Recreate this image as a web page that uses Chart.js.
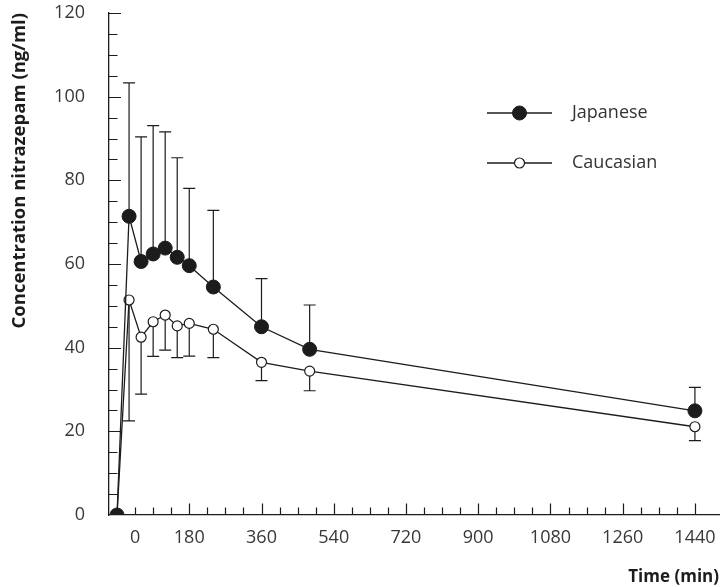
<!DOCTYPE html>
<html>
<head>
<meta charset="utf-8">
<script src="https://cdn.jsdelivr.net/npm/chart.js@4.4.1/dist/chart.umd.min.js"></script>
<style>
  html, body { margin: 0; padding: 0; background: #fff; }
  canvas { display: block; }
</style>
</head>
<body>
<canvas id="pkChart" width="727" height="587"></canvas>
<script>
// sampling times (min) and plasma nitrazepam, mean with SD
const times = [0, 30, 60, 90, 120, 150, 180, 240, 360, 480, 1440];
const japaneseMean = [0, 71.4, 60.6, 62.4, 63.8, 61.6, 59.6, 54.5, 45.0, 39.6, 24.9];
const japaneseSd = [0, 31.9, 29.8, 30.7, 27.8, 23.8, 18.5, 18.3, 11.5, 10.6, 5.6];
const caucasianMean = [0, 51.4, 42.5, 46.2, 47.8, 45.2, 45.8, 44.4, 36.5, 34.4, 21.1];
const caucasianSd = [0, 28.9, 13.6, 8.3, 8.4, 7.6, 7.8, 6.8, 4.4, 4.7, 3.3];

const xTickValues = [45, 180, 360, 540, 720, 900, 1080, 1260, 1440];
const xTickLabels = ['0', '180', '360', '540', '720', '900', '1080', '1260', '1440'];
const yTickValues = [0, 20, 40, 60, 80, 100, 120];

const INK = '#1c1c1c';
const FONT = '"Open Sans", "DejaVu Sans", sans-serif';

const toPoints = (ys) => times.map((t, i) => ({ x: t, y: ys[i] }));

// SD whiskers: Japanese upward, Caucasian downward
const errorBars = {
  id: 'errorBars',
  beforeDatasetsDraw(chart) {
    const ctx = chart.ctx;
    const yScale = chart.scales.y;
    ctx.save();
    ctx.strokeStyle = INK;
    ctx.lineWidth = 1.2;
    chart.data.datasets.forEach((ds, di) => {
      const meta = chart.getDatasetMeta(di);
      ds.sd.forEach((sd, i) => {
        if (!sd) return;
        const pt = meta.data[i];
        const end = yScale.getPixelForValue(ds.data[i].y + ds.dir * sd);
        ctx.beginPath();
        ctx.moveTo(pt.x, pt.y);
        ctx.lineTo(pt.x, end);
        ctx.moveTo(pt.x - 6, end);
        ctx.lineTo(pt.x + 6, end);
        ctx.stroke();
      });
    });
    ctx.restore();
  }
};

// inward tick marks on both axes, long at labelled values
const innerTicks = {
  id: 'innerTicks',
  afterDraw(chart) {
    const { ctx, chartArea, scales } = chart;
    ctx.save();
    ctx.strokeStyle = INK;
    ctx.lineWidth = 1.2;
    ctx.beginPath();
    for (let v = 5; v <= 120; v += 5) {
      const y = Math.round(scales.y.getPixelForValue(v)) + 0.5;
      const len = v % 20 === 0 ? 12 : 8.5;
      ctx.moveTo(chartArea.left, y);
      ctx.lineTo(chartArea.left + len, y);
    }
    for (let t = 45; t <= 1440; t += 45) {
      const x = Math.round(scales.x.getPixelForValue(t)) + 0.5;
      const len = t % 180 === 0 ? 11.5 : 7.5;
      ctx.moveTo(x, chartArea.bottom);
      ctx.lineTo(x, chartArea.bottom - len);
    }
    ctx.stroke();
    ctx.restore();
  }
};

// line-and-marker legend at upper right
const lineLegend = {
  id: 'lineLegend',
  afterDraw(chart) {
    const ctx = chart.ctx;
    const x0 = 487, x1 = 552, xm = 519.5, xt = 572;
    const rows = [113, 163];
    ctx.save();
    chart.data.datasets.forEach((ds, i) => {
      const y = rows[i];
      ctx.strokeStyle = INK;
      ctx.lineWidth = 1.3;
      ctx.beginPath();
      ctx.moveTo(x0, y);
      ctx.lineTo(x1, y);
      ctx.stroke();
      ctx.beginPath();
      ctx.arc(xm, y, ds.pointRadius, 0, Math.PI * 2);
      ctx.fillStyle = ds.pointBackgroundColor;
      ctx.fill();
      ctx.lineWidth = ds.pointBorderWidth;
      ctx.stroke();
      ctx.fillStyle = '#333';
      ctx.font = '18px ' + FONT;
      ctx.textBaseline = 'middle';
      ctx.fillText(ds.label, xt, y);
    });
    ctx.restore();
  }
};

new Chart(document.getElementById('pkChart'), {
  type: 'line',
  data: {
    datasets: [
      {
        label: 'Japanese',
        data: toPoints(japaneseMean),
        sd: japaneseSd,
        dir: 1,
        borderColor: INK,
        borderWidth: 1.3,
        pointRadius: 7,
        pointBackgroundColor: INK,
        pointBorderColor: INK,
        pointBorderWidth: 1,
        tension: 0
      },
      {
        label: 'Caucasian',
        data: toPoints(caucasianMean),
        sd: caucasianSd,
        dir: -1,
        borderColor: INK,
        borderWidth: 1.3,
        pointRadius: 5,
        pointBackgroundColor: '#ffffff',
        pointBorderColor: INK,
        pointBorderWidth: 1.2,
        tension: 0
      }
    ]
  },
  options: {
    responsive: false,
    animation: false,
    devicePixelRatio: 1,
    layout: { padding: { top: 13, right: 1, left: 0, bottom: 0 } },
    plugins: { legend: { display: false }, tooltip: { enabled: false } },
    scales: {
      x: {
        type: 'linear',
        min: -20,
        max: 1500,
        grid: { display: false },
        border: { display: true, color: INK, width: 1.3 },
        afterBuildTicks: (scale) => { scale.ticks = xTickValues.map(v => ({ value: v })); },
        afterFit: (scale) => {
          scale.height = 72;
          scale.paddingLeft = 0;
          scale.paddingRight = 0;
        },
        ticks: {
          maxRotation: 0,
          autoSkip: false,
          padding: 4,
          color: '#383838',
          font: { family: FONT, size: 18 },
          callback: (v) => xTickLabels[xTickValues.indexOf(v)]
        },
        title: {
          display: true,
          text: 'Time (min)',
          align: 'end',
          color: INK,
          padding: 0,
          font: { family: FONT, size: 17, weight: 'bold' }
        }
      },
      y: {
        min: 0,
        max: 120,
        grid: { display: false },
        border: { display: true, color: INK, width: 1.3 },
        afterBuildTicks: (scale) => { scale.ticks = yTickValues.map(v => ({ value: v })); },
        afterFit: (scale) => {
          scale.width = 109;
          scale.paddingTop = 0;
          scale.paddingBottom = 0;
        },
        ticks: {
          padding: 16,
          color: '#383838',
          font: { family: FONT, size: 18 }
        },
        title: {
          display: true,
          text: 'Concentration nitrazepam (ng/ml)',
          align: 'end',
          color: INK,
          padding: { top: 9, bottom: 0 },
          font: { family: FONT, size: 18.5, weight: 'bold' }
        }
      }
    }
  },
  plugins: [errorBars, innerTicks, lineLegend]
});
</script>
</body>
</html>
